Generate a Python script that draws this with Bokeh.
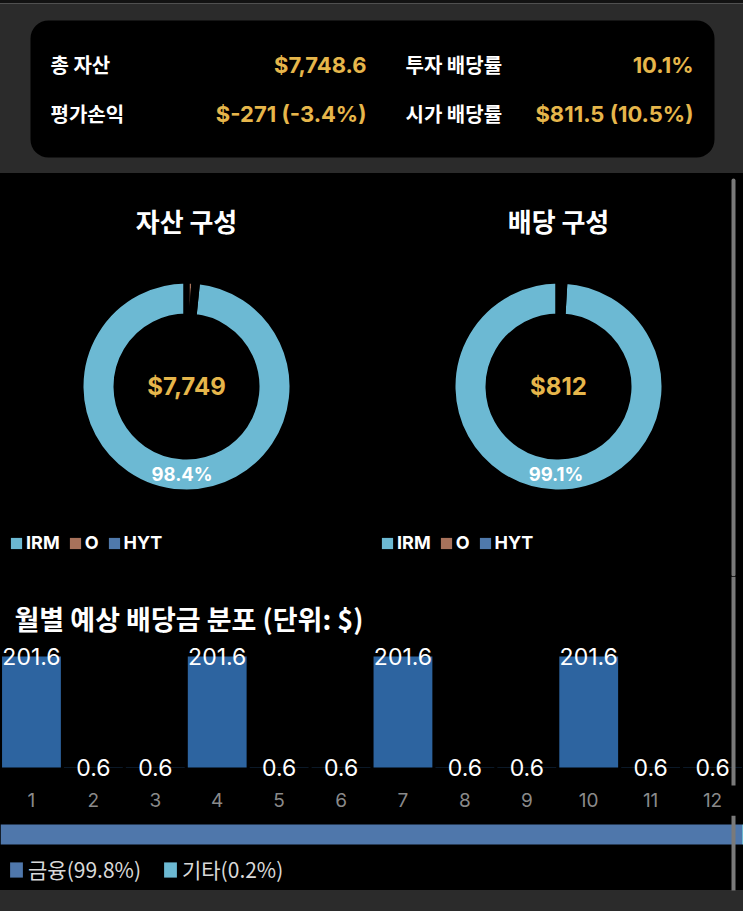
import math
from bokeh.plotting import figure
from bokeh.models import (ColumnDataSource, Range1d, Label, LabelSet, FixedTicker,
                          Legend, LegendItem, BoxAnnotation)
from bokeh.layouts import column, row
from bokeh.core.properties import value
from bokeh.embed import file_html
from bokeh.resources import INLINE

# ---------------- data ----------------
total_assets = 7748.6
unrealized_pnl = -271.0
annual_dividend = 811.5

summary_labels = ["총 자산", "투자 배당률", "평가손익", "시가 배당률"]

holdings = ["O", "HYT", "IRM"]          # slice order, clockwise from 12 o'clock
legend_holdings = ["IRM", "O", "HYT"]
holding_colors = ["#a8725b", "#4f79ab", "#6cb9d3"]
asset_values = [93.0, 31.0, 7624.6]
dividend_values = [5.0, 2.3, 804.2]

months = ["1", "2", "3", "4", "5", "6", "7", "8", "9", "10", "11", "12"]
monthly_dividends = [201.6, 0.6, 0.6, 201.6, 0.6, 0.6, 201.6, 0.6, 0.6, 201.6, 0.6, 0.6]

sectors = ["금융", "기타"]
sector_shares = [99.8, 0.2]
sector_colors = ["#4f77ab", "#6cb9d3"]

# ---------------- style ----------------
W = 743
GRAY = "#2b2b2b"
GOLD = "#e6b64b"
KR = "Noto Sans CJK KR"
NUM = "Inter"
SCROLL = "#7a7a7a"
SB_X0, SB_X1 = 731, 735          # scrollbar strip (page pixels)


def base_fig(**kw):
    p = figure(toolbar_location=None, output_backend="svg",
               border_fill_color=None, background_fill_color=None,
               outline_line_color=None, **kw)
    return p


# ---------------- summary card ----------------
cost = total_assets - unrealized_pnl
invest_yield = annual_dividend / cost * 100
market_yield = annual_dividend / total_assets * 100
pnl_pct = unrealized_pnl / cost * 100
summary_values = [
    f"${total_assets:,.1f}",
    f"{invest_yield:.1f}%",
    f"${unrealized_pnl:,.0f} ({pnl_pct:.1f}%)",
    f"${annual_dividend:,.1f} ({market_yield:.1f}%)",
]

CH = 173
card = base_fig(width=W, height=CH, x_range=Range1d(0, W), y_range=Range1d(0, CH),
                x_axis_type=None, y_axis_type=None, min_border=0)
card.styles = {"background": "linear-gradient(to bottom, #121212 0px, #121212 3px, "
                             "#505050 3px, #505050 4px, #2b2b2b 4px, #2b2b2b 100%)"}
card.add_layout(BoxAnnotation(left=30, right=714, top=CH - 20, bottom=CH - 157,
                              fill_color="black", fill_alpha=1, line_color=None,
                              border_radius=18))
row_y = [CH - 64, CH - 64, CH - 113, CH - 113]
lab_x = [50, 405, 50, 405]
val_x = [366, 693, 366, 693]
for i in range(4):
    card.add_layout(Label(x=lab_x[i], y=row_y[i], text=summary_labels[i], text_font=KR,
                          text_font_size="20px", text_font_style="bold", text_color="white",
                          text_align="left", text_baseline="middle"))
    card.add_layout(Label(x=val_x[i], y=row_y[i], text=summary_values[i], text_font=NUM,
                          text_font_size="22px", text_font_style="bold", text_color=GOLD,
                          text_align="right", text_baseline="middle"))


# ---------------- donuts ----------------
DH = 403


def make_donut(title, values, width, cx, scrollbar=False):
    total = sum(values)
    fracs = [v / total for v in values]
    start, end, mid = [], [], []
    acc = 0.0
    for f in fracs:
        a0 = math.pi / 2 - 2 * math.pi * acc
        acc += f
        a1 = math.pi / 2 - 2 * math.pi * acc
        start.append(a0)
        end.append(a1)
        mid.append((a0 + a1) / 2)
    src = ColumnDataSource(dict(name=holdings, value=values, color=holding_colors,
                                start=start, end=end,
                                cx=[0.0] * len(values), cy=[0.0] * len(values)))
    p = base_fig(width=width, height=DH, x_range=Range1d(-cx, width - cx),
                 y_range=Range1d(-190, 213), x_axis_type=None, y_axis_type=None,
                 min_border=0)
    fill = p.annular_wedge(x="cx", y="cy", inner_radius=70, outer_radius=106,
                           start_angle="start", end_angle="end", direction="clock",
                           fill_color="color", line_color=None, source=src)
    p.annular_wedge(x="cx", y="cy", inner_radius=70, outer_radius=106,
                    start_angle="start", end_angle="end", direction="clock",
                    fill_color=None, line_color="black", line_width=6, source=src)
    r_lab = 88
    big = [i for i, f in enumerate(fracs) if f >= 0.05]
    lab_src = ColumnDataSource(dict(
        x=[r_lab * math.cos(mid[i]) for i in big],
        y=[r_lab * math.sin(mid[i]) for i in big],
        t=[f"{fracs[i] * 100:.1f}%" for i in big]))
    p.add_layout(LabelSet(x="x", y="y", text="t", source=lab_src, text_align="center",
                          text_baseline="middle", text_color="white",
                          text_font=value(NUM), text_font_size="18.5px",
                          text_font_style="bold"))
    p.add_layout(Label(x=0, y=0, text=f"${total:,.0f}", text_font=NUM,
                       text_font_size="24px", text_font_style="bold", text_color=GOLD,
                       text_align="center", text_baseline="middle"))
    p.add_layout(Label(x=0, y=166, text=title, text_font=KR, text_font_size="26px",
                       text_font_style="bold", text_color="white", text_align="center",
                       text_baseline="middle"))
    items = [LegendItem(label=h, renderers=[fill], index=holdings.index(h))
             for h in legend_holdings]
    leg = Legend(items=items, orientation="horizontal", location=(9, 23),
                 padding=0, margin=0, spacing=8, label_standoff=3, label_width=8,
                 glyph_width=14, glyph_height=14, label_height=14,
                 label_text_font=NUM, label_text_font_size="18px",
                 label_text_font_style="bold", label_text_color="white",
                 background_fill_alpha=0, border_line_color=None)
    p.add_layout(leg)
    if scrollbar:
        sx = SB_X0 - 371 - cx
        p.add_layout(BoxAnnotation(left=sx, right=sx + (SB_X1 - SB_X0), top=386 - 178,
                                   bottom=-190, fill_color=SCROLL, fill_alpha=1,
                                   line_color=None, border_radius=2))
    return p


d_left = make_donut("자산 구성", asset_values, 371, 186)
d_right = make_donut("배당 구성", dividend_values, 372, 187, scrollbar=True)

# ---------------- monthly bars ----------------
BH = 239
month_pos = [i + 1 for i in range(len(months))]
cat_px = W / len(months)                     # pixel width of one month slot
bar_src = ColumnDataSource(dict(pos=month_pos, value=monthly_dividends,
                                label=[f"{v:.1f}" for v in monthly_dividends]))
pb = base_fig(width=W, height=BH, x_range=Range1d(0.5, 0.5 + len(months)),
              y_range=Range1d(-32.7, 347), y_axis_location=None,
              min_border_left=0, min_border_right=0, min_border_top=0,
              min_border_bottom=30)
pb.grid.visible = False
pb.vbar(x="pos", top="value", width=0.95, fill_color="#2d64a0", line_color=None,
        source=bar_src)
pb.add_layout(LabelSet(x="pos", y="value", text="label", source=bar_src,
                       text_align="center", text_baseline="middle", text_color="white",
                       text_font=value(NUM), text_font_size="23px"))
pb.add_layout(BoxAnnotation(left=0.5 + SB_X0 / cat_px, right=0.5 + SB_X1 / cat_px,
                            top=347, bottom=-90, fill_color=SCROLL, fill_alpha=1,
                            line_color=None))
pb.xaxis.ticker = FixedTicker(ticks=month_pos)
pb.xaxis.major_label_overrides = {p_: m for p_, m in zip(month_pos, months)}
pb.xaxis.axis_line_color = None
pb.xaxis.major_tick_line_color = None
pb.xaxis.minor_tick_line_color = None
pb.xaxis.major_tick_out = 0
pb.xaxis.major_label_standoff = 7
pb.xaxis.major_label_text_color = "#8a8a8a"
pb.xaxis.major_label_text_font = NUM
pb.xaxis.major_label_text_font_size = "19px"
pb.add_layout(Label(x=14, y=167, x_units="screen", y_units="screen",
                    text="월별 예상 배당금 분포 (단위: $)", text_font=KR,
                    text_font_size="27px", text_font_style="bold", text_color="white",
                    text_align="left", text_baseline="middle"))

# ---------------- sector bar ----------------
SH = 96
ps = base_fig(width=W, height=SH, x_range=Range1d(0, 100), y_range=Range1d(0, SH),
              x_axis_type=None, y_axis_type=None, min_border=0)
sector_src = ColumnDataSource({"row": [77], **{s: [v] for s, v in zip(sectors, sector_shares)}})
rs = ps.hbar_stack(sectors, y="row", height=20, color=sector_colors, line_color=None,
                   source=sector_src)
s_items = [LegendItem(label=f"{s}({v:.1f}%)", renderers=[r])
           for s, v, r in zip(sectors, sector_shares, rs)]
ps.add_layout(Legend(items=s_items, orientation="horizontal", location=(8, 27),
                     padding=0, margin=0, spacing=21, label_standoff=4,
                     glyph_width=16, glyph_height=19, label_height=19,
                     label_text_font=KR, label_text_font_size="21px",
                     label_text_color="#d9d9d9", background_fill_alpha=0,
                     border_line_color=None))
ps.add_layout(BoxAnnotation(left=SB_X0 / W * 100, right=SB_X1 / W * 100,
                            top=SH, bottom=21, fill_color=SCROLL, fill_alpha=1,
                            line_color=None))

layout = column(card, row(d_left, d_right, spacing=0), pb, ps, spacing=0)
layout.styles = {
    "background-color": "#000000",
    "background-image": "linear-gradient(to bottom, #000000 890px, #2b2b2b 890px)",
}
open("out.html", "w").write(file_html(layout, INLINE))
